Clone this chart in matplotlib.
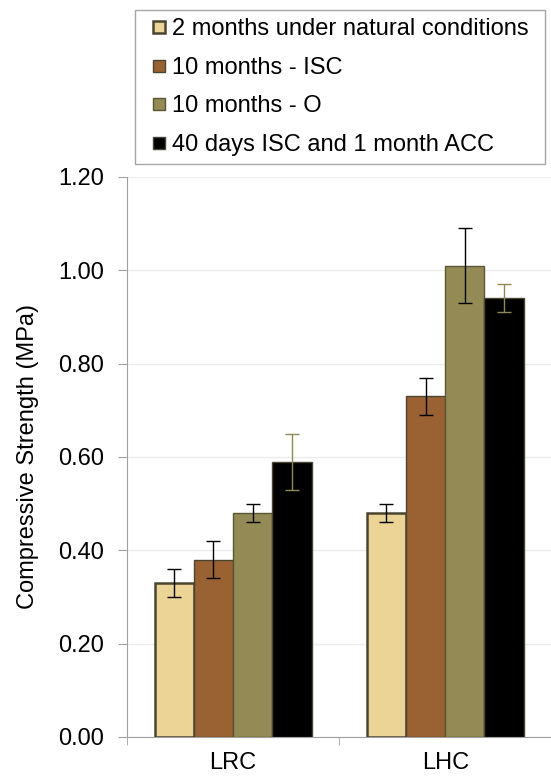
import matplotlib.pyplot as plt
from matplotlib.lines import Line2D
import numpy as np

plt.rcParams['font.family'] = ['Liberation Sans', 'DejaVu Sans']

categories = ['LRC', 'LHC']
series = ['2 months under natural conditions', '10 months - ISC',
          '10 months - O', '40 days ISC and 1 month ACC']
values = [[0.33, 0.48],
          [0.38, 0.73],
          [0.48, 1.01],
          [0.59, 0.94]]
errors = [[0.03, 0.02],
          [0.04, 0.04],
          [0.02, 0.08],
          [0.06, 0.03]]
yticks = [0.0, 0.2, 0.4, 0.6, 0.8, 1.0, 1.2]

colors = ['#ecd396', '#9a6233', '#948a55', '#000000']
edges = ['#4a4530', '#4a4530', '#5a5535', '#4a4530']
errcolors = ['black', 'black', 'black', '#8f8a55']
fs = 17

fig = plt.figure(figsize=(5.51, 7.76), dpi=100)
ax = fig.add_axes([0.2305, 0.0503, 0.77, 0.7217])

x = np.arange(len(categories))
w = 0.185
handles = []
for i in range(len(series)):
    pos = x + (i - 1.5) * w
    lw = 1.8 if i == 0 else 1.0
    ax.bar(pos, values[i], w, color=colors[i], edgecolor=edges[i],
           linewidth=lw, zorder=3)
    ax.errorbar(pos, values[i], yerr=errors[i], fmt='none',
                ecolor=errcolors[i], elinewidth=1.0, capsize=5,
                capthick=1.0, zorder=4)
    handles.append(Line2D([], [], linestyle='none', marker='s',
                          markersize=9, markerfacecolor=colors[i],
                          markeredgecolor=edges[i],
                          markeredgewidth=1.8 if i == 0 else 1.0,
                          label=series[i]))

ax.set_xlim(-0.5, 1.5)
ax.set_ylim(0, 1.2)
ax.set_yticks(yticks)
ax.set_yticklabels(['%.2f' % v for v in yticks], fontsize=fs)
ax.set_xticks(x)
ax.set_xticklabels(categories, fontsize=fs)
ax.tick_params(axis='x', length=0, pad=11)
ax.tick_params(axis='y', length=6.5, color='#a0a0a0', pad=10)
ax.set_xticks([-0.5, 0.5, 1.5], minor=True)
ax.tick_params(axis='x', which='minor', length=6, color='#a0a0a0')
ax.grid(axis='y', color='#ececec', linewidth=1.0, zorder=0)
ax.set_ylabel('Compressive Strength (MPa)', fontsize=fs, labelpad=14)
for s in ['top', 'right']:
    ax.spines[s].set_visible(False)
for s in ['left', 'bottom']:
    ax.spines[s].set_color('#a0a0a0')

fig.legend(handles=handles, loc='upper left',
           bbox_to_anchor=(135 / 551, 0.0, 410 / 551, 1 - 10 / 776),
           mode='expand', fontsize=fs, frameon=True, fancybox=False,
           edgecolor='#909090', handlelength=1.35, handletextpad=-0.15,
           labelspacing=0.7, borderpad=0.35, borderaxespad=0)

fig.savefig('out.png', dpi=100)
